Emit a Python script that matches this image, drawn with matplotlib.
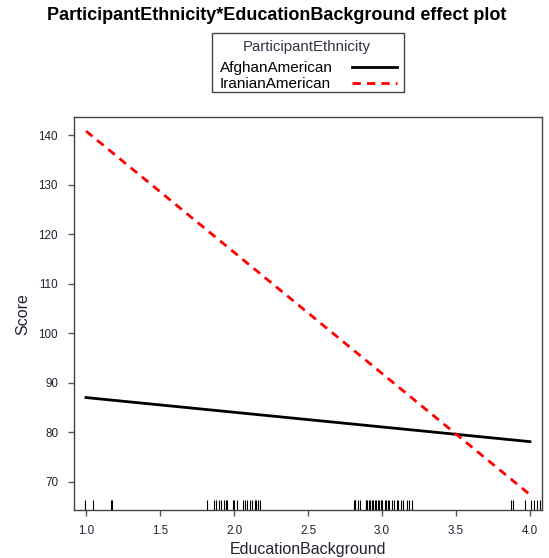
"""ParticipantEthnicity * EducationBackground effect plot (R effects style)."""

import matplotlib

matplotlib.use("Agg")

import matplotlib.pyplot as plt
import matplotlib.transforms as mtransforms
from matplotlib.lines import Line2D
from matplotlib.patches import Rectangle

plt.rcParams["font.family"] = ["Liberation Sans", "DejaVu Sans"]

# fitted effect lines (straight lines, end points)
edu_x = [1.0, 4.0]
afghan_score = [87.0, 78.1]
iranian_score = [140.8, 67.4]

# rug of observed EducationBackground values (jittered in the original)
rug_x = [
    0.99, 1.05, 1.17, 1.175,
    1.82, 1.865, 1.88, 1.90, 1.91, 1.93, 1.945, 1.955, 1.99, 2.00, 2.02,
    2.06, 2.075, 2.09, 2.11, 2.125, 2.14, 2.15, 2.16, 2.175,
    2.81, 2.815, 2.82, 2.84, 2.85, 2.89, 2.895, 2.90, 2.91, 2.92, 2.93,
    2.94, 2.95, 2.96, 2.97, 2.98, 2.99, 3.00, 3.02, 3.03, 3.04, 3.05,
    3.07, 3.08, 3.10, 3.11, 3.13, 3.14, 3.17, 3.18, 3.20,
    3.87, 3.885, 3.965, 4.005, 4.03, 4.05, 4.065,
]

x_ticks = [1.0, 1.5, 2.0, 2.5, 3.0, 3.5, 4.0]
y_ticks = [70, 80, 90, 100, 110, 120, 130, 140]

W, H = 549, 558


def px(x, y):
    """pixel position (from top-left) -> figure fraction"""
    return x / W, 1 - y / H


fig = plt.figure(figsize=(W / 100, H / 100), dpi=100)
ax = fig.add_axes([0.1348, 0.086, 0.8524, 0.704])

ax.plot(edu_x, afghan_score, color="black", lw=2)
ax.plot(edu_x, iranian_score, color="#ff0000", lw=2, ls=(0, (3, 2.2)))

trans = mtransforms.blended_transform_factory(ax.transData, ax.transAxes)
ax.vlines(rug_x, 0, 0.026, transform=trans, color="black", lw=0.8)

ax.set_xlim(0.919, 4.081)
ax.set_ylim(64.3, 143.6)
ax.set_xticks(x_ticks)
ax.set_xticklabels([f"{t:.1f}" for t in x_ticks])
ax.set_yticks(y_ticks)
ax.tick_params(direction="out", length=4.5, width=1, color="#555555",
               labelsize=8.4, labelcolor="#222233")
ax.tick_params(axis="y", pad=7)
ax.tick_params(axis="x", pad=6.5)
for spine in ax.spines.values():
    spine.set_color("#444444")
    spine.set_linewidth(1)

ax.set_xlabel("EducationBackground", fontsize=11.5, color="#222233", labelpad=3.5)
ax.set_ylabel("Score", fontsize=11.5, color="#222233", labelpad=6)

fig.text(*px(277, 15), "ParticipantEthnicity*EducationBackground effect plot",
         ha="center", va="center", fontsize=13, fontweight="bold")

# legend drawn by hand: left-aligned labels, keys on the right
x0, y0 = px(212, 92)
x1, y1 = px(404, 33)
fig.add_artist(Rectangle((x0, y0), x1 - x0, y1 - y0, transform=fig.transFigure,
                         facecolor="white", edgecolor="#444444", lw=1))
fig.text(*px(307, 47), "ParticipantEthnicity", ha="center", va="center",
         fontsize=10.8, color="#333344")
legend_entries = [
    ("AfghanAmerican", dict(color="black", lw=2), 67),
    ("IranianAmerican", dict(color="#ff0000", lw=2, ls=(0, (3, 2.2))), 83),
]
for label, style, ypix in legend_entries:
    fig.text(*px(220, ypix + 1), label, ha="left", va="center", fontsize=11)
    lx0, ly = px(352, ypix)
    lx1, _ = px(397, ypix)
    fig.add_artist(Line2D([lx0, lx1], [ly, ly], transform=fig.transFigure, **style))

fig.savefig("out.png", dpi=100)
